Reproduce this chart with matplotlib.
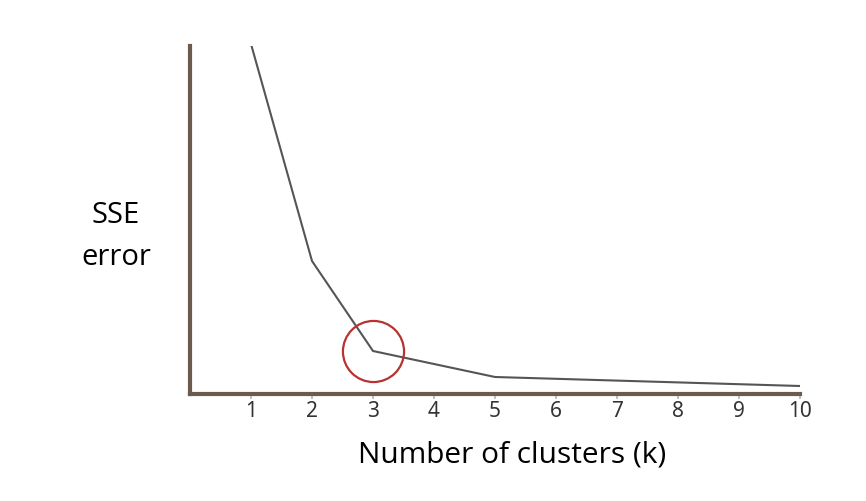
import matplotlib.pyplot as plt

# elbow curve
clusters = [1, 2, 3, 5, 10]
sse = [350, 133, 43, 17, 8]
elbow_k = 3
elbow_sse = 43
tick_labels = ['1', '2', '3', '4', '5', '6', '7', '8', '9', '10']

fig = plt.figure(figsize=(8.66, 5.02), dpi=100)
ax = fig.add_axes([190/866, 107/502, 610/866, 348/502])

ax.plot(clusters, sse, color='#555555', lw=1.5, solid_joinstyle='miter')
ax.plot([elbow_k], [elbow_sse], 'o', ms=44, mfc='none', mec='#b83232', mew=1.6)

ax.set_xlim(0, 10)
ax.set_ylim(0, 348)
ax.set_xticks(range(1, 11))
ax.set_xticklabels(tick_labels, fontsize=15, color='#333333', family='Noto Sans')
ax.set_yticks([])
ax.tick_params(axis='x', length=3.5, width=1.3, color='#bbbbbb', pad=1)

for s in ['top', 'right']:
    ax.spines[s].set_visible(False)
for s in ['left', 'bottom']:
    ax.spines[s].set_color('#6b5b4f')
    ax.spines[s].set_linewidth(3)

# axis titles, placed by baseline
fig.text(116/866, 1 - 223/502, 'SSE', fontsize=21, family='Open Sans',
         ha='center', va='baseline')
fig.text(116/866, 1 - 265/502, 'error', fontsize=21, family='Open Sans',
         ha='center', va='baseline')
fig.text(512/866, 1 - 463/502, 'Number of clusters (k)', fontsize=21.5,
         family='Open Sans', ha='center', va='baseline')

fig.savefig('out.png', dpi=100)
